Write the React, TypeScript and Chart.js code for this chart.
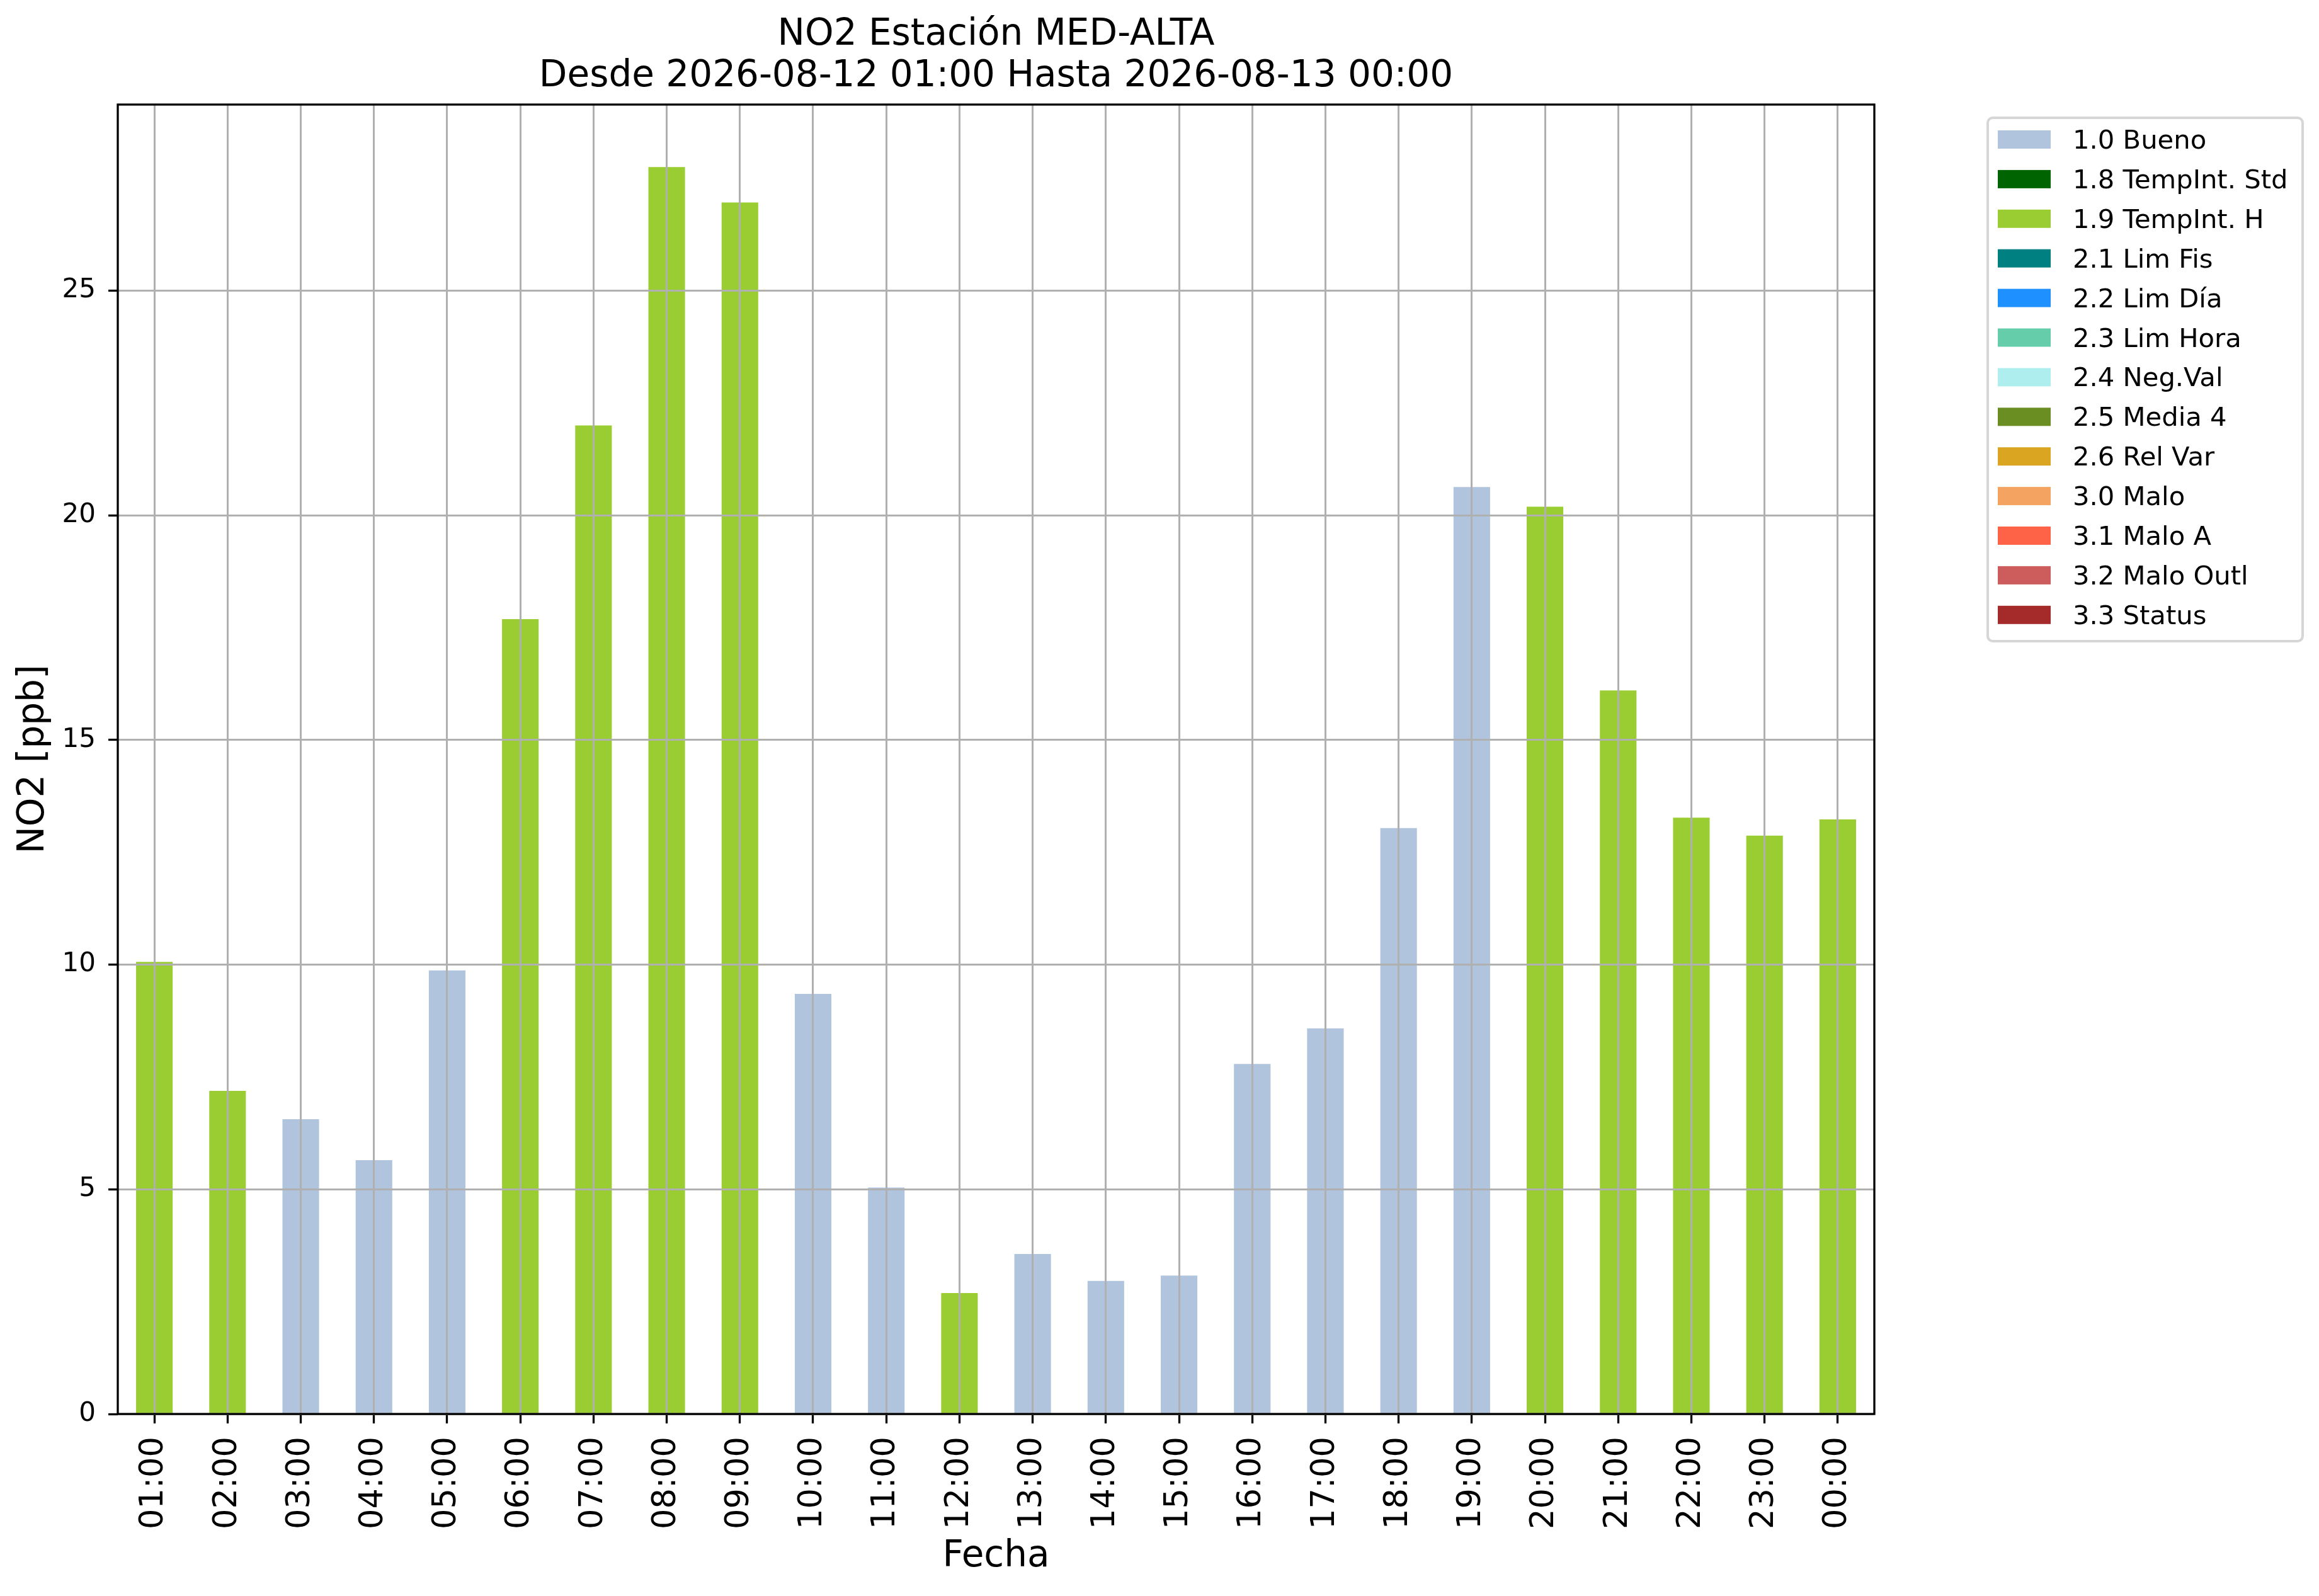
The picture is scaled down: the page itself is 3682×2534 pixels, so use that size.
import { useEffect, useRef } from "react"
import { Chart, registerables } from "chart.js"

Chart.register(...registerables)

// Datos
const horas = [
  "01:00", "02:00", "03:00", "04:00", "05:00", "06:00", "07:00", "08:00",
  "09:00", "10:00", "11:00", "12:00", "13:00", "14:00", "15:00", "16:00",
  "17:00", "18:00", "19:00", "20:00", "21:00", "22:00", "23:00", "00:00",
]
const valores = [
  10.06, 7.19, 6.56, 5.65, 9.87, 17.69, 22.0, 27.75,
  26.96, 9.35, 5.04, 2.69, 3.56, 2.96, 3.08, 7.79,
  8.58, 13.04, 20.63, 20.19, 16.1, 13.27, 12.87, 13.23,
]
const banderas = [
  "1.9", "1.9", "1.0", "1.0", "1.0", "1.9", "1.9", "1.9",
  "1.9", "1.0", "1.0", "1.9", "1.0", "1.0", "1.0", "1.0",
  "1.0", "1.0", "1.0", "1.9", "1.9", "1.9", "1.9", "1.9",
]
const codigos = ["1.0", "1.8", "1.9", "2.1", "2.2", "2.3", "2.4", "2.5", "2.6", "3.0", "3.1", "3.2", "3.3"]
const nombres = [
  "Bueno", "TempInt. Std", "TempInt. H", "Lim Fis", "Lim Día", "Lim Hora",
  "Neg.Val", "Media 4", "Rel Var", "Malo", "Malo A", "Malo Outl", "Status",
]
const colores = [
  "#b0c4de", "#006400", "#9acd32", "#008080", "#1e90ff", "#66cdaa",
  "#afeeee", "#6b8e23", "#daa520", "#f4a460", "#ff6347", "#cd5c5c", "#a52a2a",
]
const ticksY = [0, 5, 10, 15, 20, 25]
const yMax = 29.14

const FUENTE = "DejaVu Sans"
const ANCHO = 3682
const ALTO = 2534

// Marco del área de datos (ejes arriba y a la derecha incluidos)
const marcoPlugin = {
  id: "marco",
  afterDraw(chart: Chart) {
    const { ctx, chartArea } = chart
    ctx.save()
    ctx.strokeStyle = "#000"
    ctx.lineWidth = 3.3
    ctx.strokeRect(chartArea.left, chartArea.top, chartArea.right - chartArea.left, chartArea.bottom - chartArea.top)
    ctx.restore()
  },
}

// Leyenda estilo matplotlib fuera del gráfico
const leyendaPlugin = {
  id: "leyendaMpl",
  afterDraw(chart: Chart) {
    const { ctx } = chart
    const x0 = 3156
    const y0 = 187
    const w = 500
    const h = 831
    const r = 8
    ctx.save()
    ctx.beginPath()
    ctx.roundRect(x0, y0, w, h, r)
    ctx.fillStyle = "#fff"
    ctx.fill()
    ctx.lineWidth = 4
    ctx.strokeStyle = "#d6d6d6"
    ctx.stroke()

    ctx.font = `41.7px "${FUENTE}"`
    ctx.textBaseline = "alphabetic"
    ctx.textAlign = "left"
    chart.data.datasets.forEach((ds, i) => {
      const top = 207 + i * 62.9
      ctx.fillStyle = ds.backgroundColor as string
      ctx.fillRect(3172, top, 84, 29)
      ctx.fillStyle = "#000"
      ctx.fillText(ds.label || "", 3291, top + 29)
    })
    ctx.restore()
  },
}

export default function App() {
  const chartRef = useRef<HTMLCanvasElement>(null)
  const chartInstance = useRef<Chart | null>(null)

  useEffect(() => {
    document.body.style.margin = "0"
    if (!chartRef.current) return

    if (chartInstance.current) {
      chartInstance.current.destroy()
    }

    const datasets = codigos.map((codigo, i) => ({
      label: `${codigo} ${nombres[i]}`,
      data: valores.map((v, j) => (banderas[j] === codigo ? v : null)),
      backgroundColor: colores[i],
      borderWidth: 0,
      barPercentage: 0.5,
      categoryPercentage: 1.0,
    }))

    const rejilla = {
      color: "#b0b0b0",
      lineWidth: 3,
      z: 1,
      offset: false,
      drawTicks: true,
      tickColor: "#000",
      tickWidth: 3.3,
      tickLength: 15,
    }

    const ctx = chartRef.current.getContext("2d")
    if (ctx) {
      chartInstance.current = new Chart(ctx, {
        type: "bar",
        data: { labels: horas, datasets },
        options: {
          responsive: false,
          devicePixelRatio: 1,
          animation: false,
          layout: { padding: { left: 0, right: ANCHO - 2976, top: 0, bottom: 0 } },
          plugins: {
            legend: { display: false },
            tooltip: { enabled: false },
            title: {
              display: true,
              fullSize: false,
              text: ["NO2 Estación MED-ALTA", "Desde 2026-08-12 01:00 Hasta 2026-08-13 00:00"],
              color: "#000",
              font: { family: FUENTE, size: 58, weight: "normal", lineHeight: 1.138 },
              padding: { top: 23, bottom: 11 },
            },
          },
          scales: {
            x: {
              stacked: true,
              grid: rejilla,
              border: { display: false },
              ticks: {
                color: "#000",
                font: { family: FUENTE, size: 51 },
                minRotation: 90,
                maxRotation: 90,
                autoSkip: false,
                padding: 21,
              },
              title: {
                display: true,
                text: "Fecha",
                color: "#000",
                font: { family: FUENTE, size: 58, lineHeight: 1.2 },
                padding: { top: 0, bottom: 27 },
              },
              afterFit: (scale) => {
                scale.height = ALTO - 2245
              },
            },
            y: {
              stacked: true,
              min: 0,
              max: yMax,
              grid: rejilla,
              border: { display: false },
              afterBuildTicks: (scale) => {
                scale.ticks = ticksY.map((v) => ({ value: v }))
              },
              ticks: {
                color: "#000",
                font: { family: FUENTE, size: 42 },
                padding: 20,
              },
              title: {
                display: true,
                text: "NO2 [ppb]",
                color: "#000",
                font: { family: FUENTE, size: 58, lineHeight: 1.2 },
                padding: { top: 19, bottom: 0 },
              },
              afterFit: (scale) => {
                scale.width = 187
              },
            },
          },
        },
        plugins: [marcoPlugin, leyendaPlugin],
      })
    }

    return () => {
      if (chartInstance.current) {
        chartInstance.current.destroy()
        chartInstance.current = null
      }
    }
  }, [])

  return (
    <div style={{ width: ANCHO, height: ALTO, background: "#fff" }}>
      <canvas ref={chartRef} width={ANCHO} height={ALTO}></canvas>
    </div>
  )
}
